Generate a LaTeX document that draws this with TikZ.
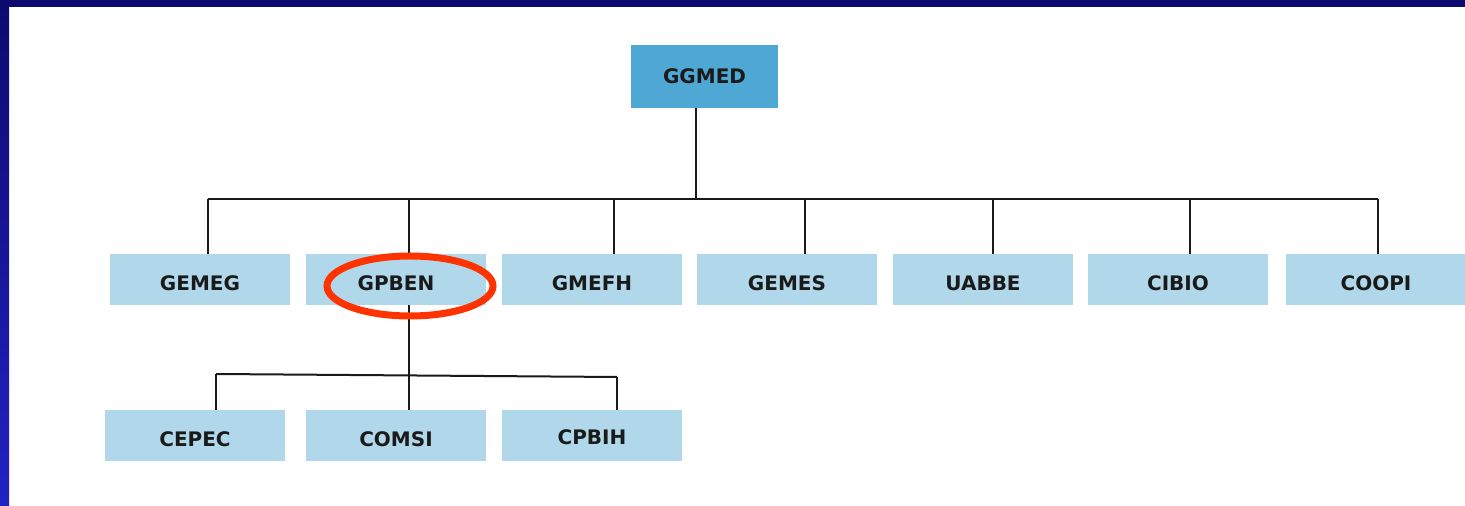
\documentclass[tikz,border=0pt]{standalone}
\usepackage{fontspec}
\setmainfont{DejaVu Sans}
\usepackage{tikz}
\usetikzlibrary{positioning,calc}
\definecolor{navy}{HTML}{0C0A70}
\definecolor{royal}{HTML}{2222C2}
\definecolor{headblue}{HTML}{4FA8D4}
\definecolor{boxblue}{HTML}{B0D8EA}
\definecolor{ink}{HTML}{1A1A1A}
\definecolor{ringred}{HTML}{FF3300}
\tikzstyle{block} = [rectangle,fill=boxblue,inner sep=0pt,minimum width=90pt,minimum height=25.5pt,text=ink,font=\bfseries\fontsize{10}{12}\selectfont,text height=11.5pt,text depth=0pt]
\tikzstyle{head} = [block,fill=headblue,minimum width=73.5pt,minimum height=31.5pt,text height=7.3pt]
\tikzstyle{line} = [draw=ink,line width=1pt]
\tikzstyle{ring} = [draw=ringred,line width=3.5pt]

\begin{document}
\begin{tikzpicture}[x=0.5pt,y=-0.5pt]
        % frame
        \useasboundingbox (0,0) rectangle (1465,506);
        \clip (0,0) rectangle (1465,506);
        \fill[white] (0,0) rectangle (1465,506);
        \shade[top color=navy,bottom color=royal] (0,0) rectangle (9,506);
        \fill[navy] (0,0) rectangle (1465,7);

        \node[head] (ggmed) at (704.5,76.5) {GGMED};

        \node[block] (gemeg) at (200,279.5) {GEMEG};
        \node[block] (gpben) at (396,279.5) {GPBEN};
        \node[block] (gmefh) at (592,279.5) {GMEFH};
        \node[block] (gemes) at (787,279.5) {GEMES};
        \node[block] (uabbe) at (983,279.5) {UABBE};
        \node[block] (cibio) at (1178,279.5) {CIBIO};
        \node[block] (coopi) at (1376,279.5) {COOPI};

        \node[block,text height=10.8pt] (cepec) at (195,436) {CEPEC};
        \node[block,text height=10.8pt] (comsi) at (396,436) {COMSI};
        \node[block,text height=9pt] (cpbih) at (592,436) {CPBIH};

        % top level bus
        \coordinate (busL) at (208,199);
        \coordinate (busR) at (1378,199);
        \draw[line] ([xshift=-4.25pt]ggmed.south) -- ([xshift=-4.25pt]ggmed.south |- busL);
        \draw[line] (busL) -- (busR);
        \foreach \n/\x in {gemeg/208,gpben/409,gmefh/614,gemes/805,uabbe/993,cibio/1190,coopi/1378}{
            \coordinate (drop) at (\x,199);
            \draw[line] (drop) -- (drop |- \n.north);
        }

        % sub bus under GPBEN
        \coordinate (subL) at (216,374);
        \coordinate (subR) at (617,377);
        \draw[line] ([xshift=6.5pt]gpben.south) -- ([xshift=6.5pt]comsi.north);
        \draw[line] (subL) -- (subR);
        \draw[line] (subL) -- (subL |- cepec.north);
        \draw[line] (subR) -- (subR |- cpbih.north);

        \draw[ring] (410,286) ellipse [x radius=83,y radius=30];
    \end{tikzpicture}
\end{document}
